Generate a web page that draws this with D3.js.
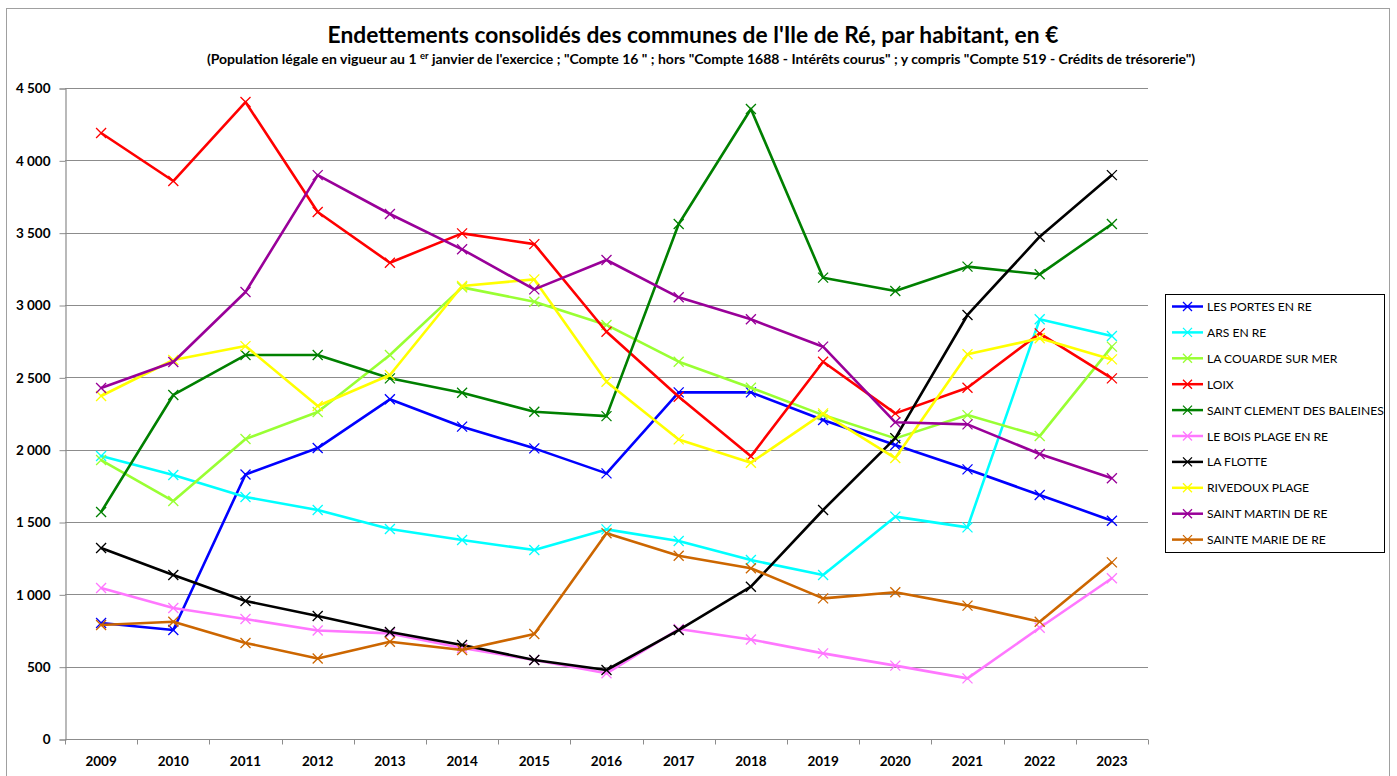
<!DOCTYPE html>
<html>
<head>
<meta charset="utf-8">
<script src="https://cdn.jsdelivr.net/npm/d3@7"></script>
<style>
  body { margin: 0; background: #fff; }
  svg text { font-family: Lato, "Open Sans", sans-serif; }
</style>
</head>
<body>
<script>
"use strict";

// years on the x axis
const years = ["2009", "2010", "2011", "2012", "2013", "2014", "2015", "2016",
               "2017", "2018", "2019", "2020", "2021", "2022", "2023"];

// y axis ticks
const yTicks = [0, 500, 1000, 1500, 2000, 2500, 3000, 3500, 4000, 4500];

// communes, in legend order
const communes = ["LES PORTES EN RE", "ARS EN RE", "LA COUARDE SUR MER", "LOIX",
                  "SAINT CLEMENT DES BALEINES", "LE BOIS PLAGE EN RE", "LA FLOTTE",
                  "RIVEDOUX PLAGE", "SAINT MARTIN DE RE", "SAINTE MARIE DE RE"];

// debt per inhabitant, one array per commune (2009 -> 2023)
const lesPortes   = [802, 753, 1828, 2011, 2348, 2159, 2009, 1836, 2396, 2396, 2205, 2032, 1864, 1687, 1509];
const arsEnRe     = [1956, 1825, 1673, 1583, 1452, 1375, 1306, 1449, 1369, 1237, 1134, 1537, 1463, 2901, 2786];
const laCouarde   = [1928, 1645, 2074, 2260, 2654, 3122, 3023, 2862, 2608, 2428, 2239, 2078, 2239, 2094, 2712];
const loix        = [4189, 3857, 4403, 3643, 3292, 3495, 3421, 2815, 2366, 1955, 2608, 2251, 2428, 2804, 2493];
const saintClement = [1569, 2378, 2654, 2654, 2493, 2394, 2262, 2232, 3560, 4355, 3189, 3097, 3265, 3212, 3560];
const boisPlage   = [1044, 905, 829, 750, 730, 629, 546, 454, 760, 688, 592, 507, 419, 769, 1111];
const laFlotte    = [1320, 1134, 954, 850, 740, 650, 546, 477, 753, 1053, 1583, 2080, 2931, 3472, 3898];
const rivedoux    = [2371, 2620, 2716, 2302, 2516, 3131, 3177, 2470, 2071, 1910, 2251, 1942, 2659, 2770, 2624];
const saintMartin = [2426, 2606, 3090, 3898, 3629, 3385, 3108, 3311, 3053, 2901, 2712, 2189, 2175, 1970, 1802];
const sainteMarie = [788, 811, 664, 557, 672, 615, 726, 1422, 1267, 1180, 972, 1014, 922, 811, 1221];

const seriesValues = [lesPortes, arsEnRe, laCouarde, loix, saintClement,
                      boisPlage, laFlotte, rivedoux, saintMartin, sainteMarie];

const colors = ["#0000ff", "#00ffff", "#99ff33", "#ff0000", "#008000",
                "#ff77ff", "#000000", "#ffff00", "#990099", "#cc6600"];

const width = 1397, height = 776;
const margin = {top: 88, right: 249, bottom: 37, left: 65};

const svg = d3.select("body").append("svg")
    .attr("width", width)
    .attr("height", height);

// chart frame
svg.append("rect")
    .attr("x", 6.5).attr("y", 8.5)
    .attr("width", 1383).attr("height", 800)
    .attr("fill", "none")
    .attr("stroke", "#a0a0a0")
    .attr("stroke-width", 1);

// titles
svg.append("text")
    .attr("x", 693).attr("y", 43)
    .attr("text-anchor", "middle")
    .attr("font-size", 22.8).attr("font-weight", "bold")
    .text("Endettements consolidés des communes de l'Ile de Ré, par habitant, en €");

const sub = svg.append("text")
    .attr("x", 701).attr("y", 64)
    .attr("text-anchor", "middle")
    .attr("font-size", 14).attr("font-weight", "bold");
sub.append("tspan").text("(Population légale en vigueur au 1 ");
sub.append("tspan").attr("font-size", 9.5).attr("dy", -5).text("er");
sub.append("tspan").attr("dy", 5)
    .text(" janvier de l'exercice ; \"Compte 16 \" ; hors \"Compte 1688 - Intérêts courus\" ; y compris \"Compte 519 - Crédits de trésorerie\")");

const x = d3.scaleBand()
    .domain(years)
    .range([margin.left, width - margin.right]);

const y = d3.scaleLinear()
    .domain([0, 4500])
    .range([height - margin.bottom, margin.top]);

const fmt = d => d3.format(",")(d).replace(",", " ");

// horizontal gridlines
svg.append("g")
    .selectAll("line")
    .data(yTicks.slice(1))
    .join("line")
    .attr("x1", margin.left).attr("x2", width - margin.right)
    .attr("y1", d => Math.round(y(d)) + 0.5).attr("y2", d => Math.round(y(d)) + 0.5)
    .attr("stroke", "#8c8c8c").attr("stroke-width", 1.2);

// y axis
const yAxis = svg.append("g")
    .attr("transform", "translate(" + (margin.left + 0.5) + ",0.5)")
    .call(d3.axisLeft(y).tickValues(yTicks).tickFormat(fmt).tickSize(6).tickPadding(9));
yAxis.select(".domain").attr("stroke", "#8c8c8c").attr("stroke-width", 1.2);
yAxis.selectAll(".tick line").attr("stroke", "#8c8c8c");
yAxis.selectAll("text")
    .attr("font-size", 13.5).attr("font-weight", "bold").attr("fill", "#000")
    .attr("font-family", "Lato, sans-serif");

// x axis: ticks sit between the categories
const xAxis = svg.append("g")
    .attr("transform", "translate(0," + (Math.round(y(0)) + 0.5) + ")");
xAxis.append("line")
    .attr("x1", margin.left).attr("x2", width - margin.right)
    .attr("stroke", "#8c8c8c").attr("stroke-width", 1.2);
xAxis.selectAll("line.tick")
    .data(years.concat(["end"]))
    .join("line")
    .attr("class", "tick")
    .attr("x1", (d, i) => Math.round(margin.left + i * x.step()) + 0.5)
    .attr("x2", (d, i) => Math.round(margin.left + i * x.step()) + 0.5)
    .attr("y1", 0).attr("y2", 5)
    .attr("stroke", "#8c8c8c");
xAxis.selectAll("text")
    .data(years)
    .join("text")
    .attr("x", d => x(d) + x.bandwidth() / 2)
    .attr("y", 26)
    .attr("text-anchor", "middle")
    .attr("font-size", 13.5).attr("font-weight", "bold")
    .text(d => d);

// series lines and markers
const line = d3.line()
    .x((d, i) => x(years[i]) + x.bandwidth() / 2)
    .y(d => y(d));

function drawCross(g, cx, cy, r, color) {
    g.append("path")
        .attr("d", "M" + (cx - r) + "," + (cy - r) + "L" + (cx + r) + "," + (cy + r) +
                   "M" + (cx - r) + "," + (cy + r) + "L" + (cx + r) + "," + (cy - r))
        .attr("stroke", color)
        .attr("stroke-width", 1.3)
        .attr("fill", "none");
}

for (let s = 0; s < seriesValues.length; s++) {
    const g = svg.append("g").attr("class", "series");
    g.append("path")
        .datum(seriesValues[s])
        .attr("d", line)
        .attr("fill", "none")
        .attr("stroke", colors[s])
        .attr("stroke-width", 2.6)
        .attr("stroke-linejoin", "round");
    seriesValues[s].forEach(function(v, i) {
        drawCross(g, x(years[i]) + x.bandwidth() / 2, y(v), 5, colors[s]);
    });
}

// legend
const legend = svg.append("g");
legend.append("rect")
    .attr("x", 1165.5).attr("y", 294.5)
    .attr("width", 219).attr("height", 258)
    .attr("fill", "#fff")
    .attr("stroke", "#000").attr("stroke-width", 1);

communes.forEach(function(name, i) {
    const ly = 306.5 + i * 25.9;
    legend.append("line")
        .attr("x1", 1172).attr("x2", 1203)
        .attr("y1", ly).attr("y2", ly)
        .attr("stroke", colors[i]).attr("stroke-width", 2.5);
    drawCross(legend, 1187.5, ly, 4.5, colors[i]);
    legend.append("text")
        .attr("x", 1207).attr("y", ly + 4.5)
        .attr("font-size", 12.1)
        .text(name);
});
</script>
</body>
</html>
